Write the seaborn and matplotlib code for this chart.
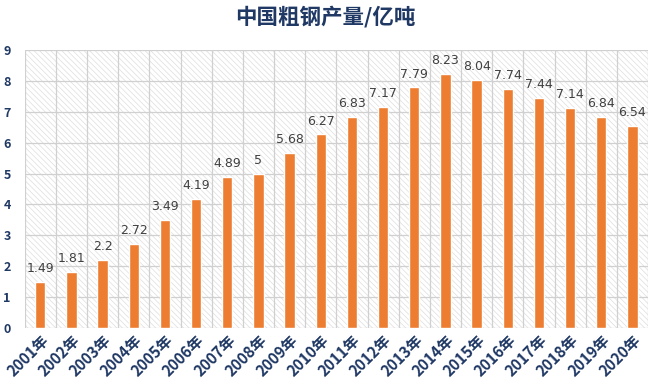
import numpy as np
import pandas as pd
import matplotlib
matplotlib.use("Agg")
import matplotlib.pyplot as plt
import seaborn as sns
from matplotlib.patches import Rectangle

# data
years = [f"{y}年" for y in range(2001, 2021)]
output = [1.49, 1.81, 2.2, 2.72, 3.49, 4.19, 4.89, 5, 5.68, 6.27,
          6.83, 7.17, 7.79, 8.23, 8.04, 7.74, 7.44, 7.14, 6.84, 6.54]
value_labels = ["1.49", "1.81", "2.2", "2.72", "3.49", "4.19", "4.89", "5", "5.68", "6.27",
                "6.83", "7.17", "7.79", "8.23", "8.04", "7.74", "7.44", "7.14", "6.84", "6.54"]

df = pd.DataFrame({"year": years, "output": output})

sns.set_style("white")
plt.rcParams["font.family"] = ["Noto Sans CJK SC", "DejaVu Sans"]
plt.rcParams["hatch.linewidth"] = 0.5
plt.rcParams["hatch.color"] = "#dedede"

navy = "#1f3864"
orange = "#ed7d31"

fig = plt.figure(figsize=(6.5, 3.91), dpi=100)
ax = fig.add_axes([0.038, 0.161, 0.959, 0.711])

# hatched plot-area background
ax.add_patch(Rectangle((0, 0), 1, 1, transform=ax.transAxes, facecolor="white",
                       edgecolor="#dedede", hatch="\\\\\\\\\\\\", linewidth=0, zorder=0))

sns.barplot(data=df, x="year", y="output", color=orange, width=0.33,
            saturation=1, ax=ax, zorder=3)

for i, (v, lab) in enumerate(zip(output, value_labels)):
    ax.text(i, v + 0.22, lab, ha="center", va="bottom", fontsize=9,
            color="#404040", zorder=4, family=["DejaVu Sans"])

ax.set_xlim(-0.5, len(years) - 0.5)
ax.set_ylim(0, 9)
ax.set_yticks(range(0, 10))
ax.set_xticks(np.arange(-0.5, len(years)), minor=True)
ax.grid(axis="y", which="major", color="#d0d0d0", linewidth=0.9, zorder=1)
ax.grid(axis="x", which="minor", color="#d0d0d0", linewidth=0.9, zorder=1)
ax.set_axisbelow(True)
ax.tick_params(axis="both", which="both", length=0)
for s in ax.spines.values():
    s.set_visible(False)

ax.set_xlabel("")
ax.set_ylabel("")
ax.set_xticks(range(len(years)))
ax.set_xticklabels(years, rotation=45, ha="right", rotation_mode="anchor",
                   fontsize=11, fontweight="bold", color=navy)
for lab in ax.get_yticklabels():
    lab.set_fontsize(9)
    lab.set_fontweight("bold")
    lab.set_color(navy)
ax.tick_params(axis="y", pad=10)
ax.tick_params(axis="x", pad=3)

fig.suptitle("中国粗钢产量/亿吨", x=0.5, y=0.985, fontsize=15.5,
             fontweight="bold", color=navy)

fig.savefig("out.png", dpi=100)
